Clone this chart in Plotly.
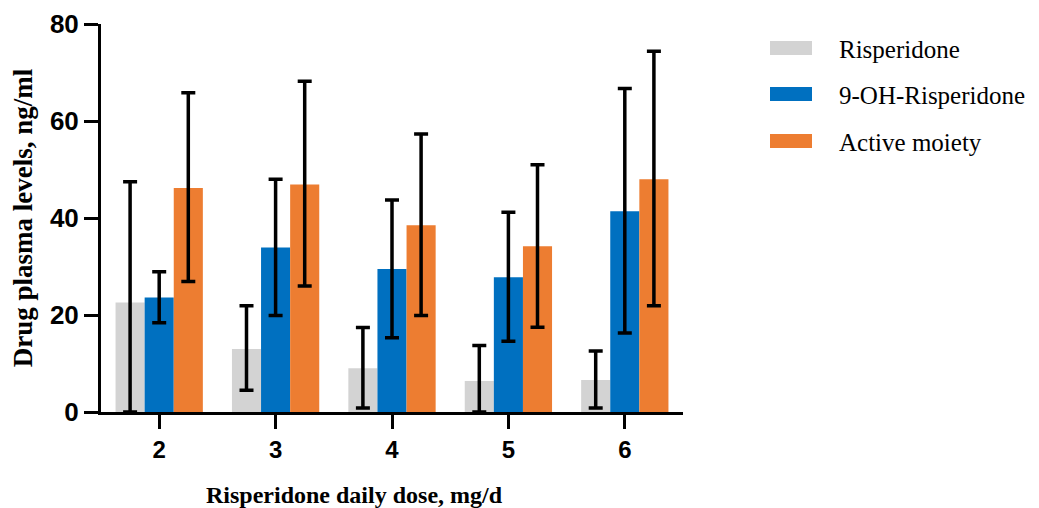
import plotly.graph_objects as go

doses = ["2", "3", "4", "5", "6"]
series_names = ["Risperidone", "9-OH-Risperidone", "Active moiety"]

risp_mean = [22.6, 13.0, 9.0, 6.4, 6.6]
risp_hi = [47.5, 21.9, 17.4, 13.7, 12.6]
risp_lo = [0.0, 4.5, 0.8, 0.0, 0.8]

oh_mean = [23.6, 33.9, 29.5, 27.8, 41.4]
oh_hi = [28.9, 48.0, 43.7, 41.2, 66.7]
oh_lo = [18.4, 19.9, 15.3, 14.6, 16.3]

act_mean = [46.2, 46.9, 38.5, 34.2, 48.0]
act_hi = [65.8, 68.2, 57.3, 51.0, 74.4]
act_lo = [26.9, 26.0, 19.9, 17.5, 21.9]

colors = ["#D3D3D3", "#0070C0", "#ED7D31"]

# plot-area geometry in figure pixels
ML, MT, PW, PH = 93, 16, 582, 388


def px(x):
    return (x - ML) / PW


def py(y):
    return (MT + PH - y) / PH


fig = go.Figure()
for name, m, hi, lo, c in zip(series_names,
                              [risp_mean, oh_mean, act_mean],
                              [risp_hi, oh_hi, act_hi],
                              [risp_lo, oh_lo, act_lo],
                              colors):
    fig.add_trace(go.Bar(
        x=doses, y=m, name=name, showlegend=False,
        marker=dict(color=c, line=dict(width=0)),
        error_y=dict(type="data", symmetric=False,
                     array=[h - v for h, v in zip(hi, m)],
                     arrayminus=[v - l for l, v in zip(lo, m)],
                     color="black", thickness=3.5, width=7),
    ))

# legend drawn as swatches + text
row_centers = [40, 86, 133]
for name, c, yc in zip(series_names, colors, row_centers):
    fig.add_shape(type="rect", xref="paper", yref="paper",
                  x0=px(762), x1=px(804), y0=py(yc - 7), y1=py(yc + 7),
                  fillcolor=c, line=dict(width=0), layer="above")
    fig.add_annotation(text=name, xref="paper", yref="paper",
                       x=px(829), y=py(yc + 1), xanchor="left", yanchor="middle",
                       showarrow=False,
                       font=dict(family="Liberation Serif", size=25, color="black"))

fig.add_annotation(text="<b>Risperidone daily dose, mg/d</b>", xref="paper", yref="paper",
                   x=0.435, y=-0.215, xanchor="center", yanchor="middle",
                   showarrow=False, font=dict(family="Liberation Serif", size=24, color="black"))

fig.update_layout(
    width=1039, height=508,
    paper_bgcolor="white", plot_bgcolor="white",
    margin=dict(l=ML, r=1039 - ML - PW, t=MT, b=508 - MT - PH, autoexpand=False),
    barmode="group", bargap=0.25, bargroupgap=0,
    font=dict(family="Liberation Sans", color="black"),
    showlegend=False,
    xaxis=dict(type="category", showline=True, linewidth=3, linecolor="black",
               ticks="outside", ticklen=14, tickwidth=3, tickcolor="black",
               tickfont=dict(family="Liberation Sans", size=24, color="black", weight="bold"),
               showgrid=False, range=[-0.5, 4.5], automargin=False),
    yaxis=dict(range=[0, 80], tickvals=[0, 20, 40, 60, 80], showline=True, linewidth=3,
               linecolor="black", ticks="outside", ticklen=14, tickwidth=3, tickcolor="black",
               tickfont=dict(family="Liberation Sans", size=26, color="black", weight="bold"),
               title=dict(text="<b>Drug plasma levels, ng/ml</b>",
                          font=dict(family="Liberation Serif", size=27), standoff=13),
               showgrid=False, zeroline=False, automargin=False),
)

fig.write_html("out.html")
